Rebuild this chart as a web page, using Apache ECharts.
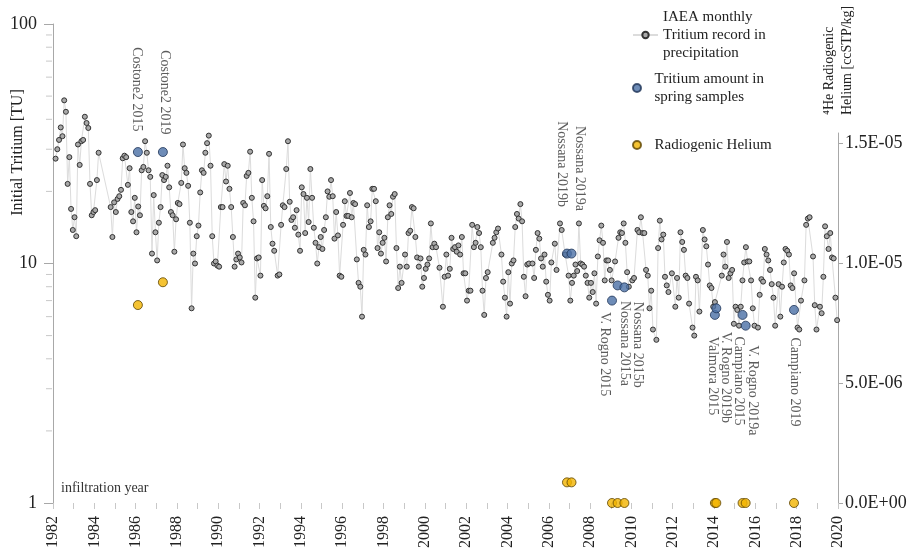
<!DOCTYPE html>
<html><head><meta charset="utf-8">
<script src="https://cdn.jsdelivr.net/npm/echarts@6/dist/echarts.min.js"></script>
<style>html,body{margin:0;padding:0;background:#fff}#c{width:921px;height:553px}</style>
</head><body><div id="c"></div>
<script>
// ---- IAEA monthly tritium in precipitation (TU), one array per year, Jan..Dec ----
const iaeaStartYear = 1982;
const iaea1982 = [null, 27.4, 30, 32.8, 37, 34, 48, 43, 21.5, 27.8, 16.9, 13.8];
const iaea1983 = [15.6, 13, 31.4, 25.8, 32.4, 32.8, 41, 38.6, 36.8, 21.5, 15.9, 16.4];
const iaea1984 = [16.7, 22.3, 29, null, null, null, null, null, null, 17.2, 12.9, 18];
const iaea1985 = [16.4, 18.6, 19.1, 20.3, 27.5, 28.2, 27.8, 21.3, 25, 16.4, 15, 18.8];
const iaea1986 = [13.5, 17.3, 15.9, 24.5, 25.3, 32.4, 29, 24.5, 23, 11, 19.3, 13.5];
const iaea1987 = [10.3, 14.8, 17.2, 23.4, 22.3, 23, 25.6, 20.8, 16.4, 15.9, 11.2, 15.3];
const iaea1988 = [17.9, 17.7, 21.7, 31.4, 25, 23.9, 21.1, 14.8, 6.5, 11, 10, 13];
const iaea1989 = [14.4, 19.8, 24.5, 23.9, 29, 31.8, 34.2, 25.6, 13, 10, 10.2, 9.8];
const iaea1990 = [9.7, 17.2, 17.2, 26, 22, 25.6, 20.5, 17.2, 12.9, 9.7, 10.4, 11];
const iaea1991 = [10.6, 10.1, 17.9, 17.5, 23.2, 23.9, 29.3, 18.8, 15, 7.2, 10.5, 10.6];
const iaea1992 = [8.9, 22.3, 17.4, 17, 19.1, 28.7, 14.2, 12.1, 11.3, null, 8.9, 9];
const iaea1993 = [14.5, 17.5, 17.2, 24.8, 32.4, 18.1, 15.2, 15.6, 14.1, 16.7, 13.2, 11.3];
const iaea1994 = [20.8, 19.5, 13.4, 18.8, 14.9, 24.8, 18.8, 14.1, 12.2, 10, 11.7, 12.9];
const iaea1995 = [11.5, 13.8, 15.6, 20, 19, 22.3, 19.1, 12.7, 16.4, 13.1, 8.9, 8.8];
const iaea1996 = [14.5, 18.2, 15.8, 15.8, 19.7, 15.6, 17.9, 17.7, 10.4, 8.3, 8, 6];
const iaea1997 = [11.4, 10.9, 17.5, 14.2, 15, 20.5, 20.5, 18.2, 11.6, 13.5, 11, 12.2];
const iaea1998 = [12.8, 10.2, 15.6, 17.5, 16.1, 19, 19.5, 11.6, 7.9, 9.7, 8.3, null];
const iaea1999 = [10.9, 9.7, 13.4, 13.7, 17.2, 17, 12.9, 10.6, 9.7, 10.5, 8, 8.7];
const iaea2000 = [9.5, 9.9, 10.5, 14.7, 11.7, 12.1, 11.7, null, 9.6, null, 6.6, 8.8];
const iaea2001 = [10.9, 8.9, 9.5, 12.8, 11.5, 11.7, 11.2, 11.9, 10.9, 12.9, 9.1, 9.1];
const iaea2002 = [7, 7.7, 7.7, 14.5, 11.7, 12.2, 14.2, 13.4, 11.7, 7.7, 6.1, 8.7];
const iaea2003 = [9.2, null, null, 12.2, 12.8, 13.5, 14, null, 10.9, 8.4, 7.2, 6];
const iaea2004 = [9.2, 6.8, 10, 10.3, 14.2, 16.1, 15.4, 17.7, 15, 8.8, 7.3, 9.9];
const iaea2005 = [10, null, 10, 8.7, 11.4, 13.4, 12.7, 10.5, 9.7, 10.9, 8.4, 7.4];
const iaea2006 = [7, 10.1, null, 12.1, 9.4, null, 14.7, 13.8, null, 10.9, null, 8.9];
const iaea2007 = [7, 8.3, 8.9, 9.9, 9.3, 14.7, 10, 9.9, 9.7, 8.9, 8.3, 7.2];
const iaea2008 = [8.3, 7.6, 9.1, 6.8, 10.7, 12.5, 14.4, 12.2, 8.5, 10.3, 10.3, 9.4];
const iaea2009 = [8.5, null, 10.2, null, 12.8, 13.5, 13.4, 14.7, 12.2, 9.2, 8, null];
const iaea2010 = [8.5, 8.7, null, 13.8, 13.5, 15.6, 13.4, 13.4, 9.4, 8.9, 6.5, 7.7];
const iaea2011 = [5.3, null, 4.8, 11.6, 15.1, 12.6, 13.2, 8.8, 8.1, 7.6, null, 9.1];
const iaea2012 = [null, 6.6, 8.7, 7.2, 13.5, 12.3, 11.4, 8.9, 8.7, 6.8, null, 5.4];
const iaea2013 = [5.0, 8.8, 8.5, 6.3, null, 13.8, 12.6, 11.8, 9.9, 8.1, 7.9, 6.6];
const iaea2014 = [6.9, null, null, null, 8.9, 10.9, 9.7, 12.3, 8.7, 9.1, 9.4, 5.6];
const iaea2015 = [6.6, 6.4, 5.5, 6.6, 8.5, 10.1, 11.7, 10.2, 10.2, 8.5, 6.5, 5.5];
const iaea2016 = [null, 5.4, 7.4, 8.6, 8.4, 11.5, 10.9, 10.3, 9.4, 8.2, 7.2, 5.5];
const iaea2017 = [null, 8.2, 6, 8, 10.1, 11.5, 11.3, 10.9, 8.1, 7.9, 9.1, null];
const iaea2018 = [5.4, 5.3, 7, null, 8.5, 14.5, 15.4, 15.6, null, 10.7, 6.7, 5.3];
const iaea2019 = [null, 6.6, 6.2, 8.8, 14.3, 13, 11.5, 13.4, 10.6, 10.5, 7.2, 5.8];
const iaeaByYear = [iaea1982, iaea1983, iaea1984, iaea1985, iaea1986, iaea1987, iaea1988, iaea1989,
  iaea1990, iaea1991, iaea1992, iaea1993, iaea1994, iaea1995, iaea1996, iaea1997, iaea1998, iaea1999,
  iaea2000, iaea2001, iaea2002, iaea2003, iaea2004, iaea2005, iaea2006, iaea2007, iaea2008, iaea2009,
  iaea2010, iaea2011, iaea2012, iaea2013, iaea2014, iaea2015, iaea2016, iaea2017, iaea2018, iaea2019];

// ---- spring samples ----
const springNames = ['Costone2 2015', 'Costone2 2019', 'Nossana 2019b', 'Nossana 2019a', 'V. Rogno 2015',
  'Nossana 2015a', 'Nossana 2015b', 'Valmora 2015', 'V. Rogno 2019b', 'Campiano 2015', 'V. Rogno 2019a', 'Campiano 2019'];
const springYears = [1986.11, 1987.32, 2006.88, 2007.10, 2009.06, 2009.33, 2009.66, 2014.04, 2014.11, 2015.38, 2015.53, 2017.87];
const springTritium = [29.2, 29.2, 11, 11, 7.0, 8.1, 7.95, 6.1, 6.5, 6.1, 5.5, 6.4];
const heliumValues = [8.25e-6, 9.2e-6, 8.6e-7, 8.6e-7, 0, 0, 0, 0, 0, 0, 0, 0];

// ---- axis ticks ----
const xMin = 1982, xMax = 2020, xStep = 2;
const logMinorTicks = [2, 3, 4, 5, 6, 7, 8, 9, 20, 30, 40, 50, 60, 70, 80, 90];
const heliumTickStep = 5e-6;

// label placement (style only): [dx, dy, align] relative to the point
const labelPlacement = [
  [-1, -20, 'right'], [2, -17, 'right'], [-5, -46, 'right'], [8.5, -42, 'right'],
  [-7, 12, 'left'], [8, 16, 'left'], [14, 15, 'left'], [-2, 22, 'left'],
  [10, 24, 'left'], [-3, 22, 'left'], [8, 20, 'left'], [1, 28, 'left']
];

const FONT = 'Liberation Serif';
const TXT = '#222';
const iaeaName = 'IAEA monthly\nTritium record in\nprecipitation';
const springName = 'Tritium amount in\nspring samples';
const heliumName = 'Radiogenic Helium';

const iaeaData = [];
iaeaByYear.forEach((arr, i) => arr.forEach((v, m) => {
  if (v != null) iaeaData.push([iaeaStartYear + i + (m + 0.5) / 12, v]);
}));

const R = 4.5;
const springData = springNames.map((n, i) => ({
  name: n,
  value: [springYears[i], springTritium[i]],
  label: {
    show: true, formatter: n, rotate: -90,
    position: [R + labelPlacement[i][0], R + labelPlacement[i][1]],
    align: labelPlacement[i][2], verticalAlign: 'middle',
    fontFamily: FONT, fontSize: 14, color: '#333'
  }
}));
const heliumData = springYears.map((y, i) => [y, heliumValues[i]]);

function expFmt(v) {
  if (v === 0) return '0.0E+00';
  const s = v.toExponential(1).toUpperCase();
  const [mant, ex] = s.split('E');
  const sign = ex[0] === '-' ? '-' : '+';
  const d = ex.replace(/[+-]/, '');
  return mant + 'E' + sign + (d.length < 2 ? '0' + d : d);
}

const chart = echarts.init(document.getElementById('c'));
chart.setOption({
  animation: false,
  backgroundColor: '#fff',
  textStyle: { fontFamily: FONT },
  grid: [
    { left: 53, right: 83, top: 24, bottom: 50, containLabel: false, outerBoundsMode: 'none' },
    { left: 53, right: 83, top: 133, bottom: 50, containLabel: false, outerBoundsMode: 'none' }
  ],
  legend: [
    { data: [iaeaName], left: 632, top: -10, padding: 0, orient: 'vertical', itemWidth: 25, itemHeight: 8,
      textStyle: { fontFamily: FONT, fontSize: 15, color: TXT, lineHeight: 18, padding: [36, 0, 0, 0] } },
    { data: [springName], left: 632, top: 61, padding: 0, orient: 'vertical', itemWidth: 25, itemHeight: 8,
      textStyle: { fontFamily: FONT, fontSize: 15, color: TXT, lineHeight: 18, padding: [18, 0, 0, 0] } },
    { data: [heliumName], left: 632, top: 136, padding: 0, orient: 'vertical', itemWidth: 25, itemHeight: 8,
      textStyle: { fontFamily: FONT, fontSize: 15, color: TXT, lineHeight: 18 } }
  ],
  xAxis: [
    { type: 'value', gridIndex: 0, min: xMin, max: xMax, interval: xStep,
      name: 'infiltration year', nameLocation: 'start', nameGap: -8, nameMoveOverlap: false,
      nameTextStyle: { fontFamily: FONT, fontSize: 14, color: '#333', align: 'left', verticalAlign: 'bottom', padding: [0, 0, 8, 0] },
      axisLine: { show: false },
      axisTick: { show: true, length: 6, lineStyle: { color: '#c8c8c8' } },
      minorTick: { show: true, splitNumber: 2, length: 6, lineStyle: { color: '#c8c8c8' } },
      splitLine: { show: false },
      axisLabel: { rotate: 90, margin: 13, fontFamily: FONT, fontSize: 16, color: TXT, formatter: v => String(v) } },
    { type: 'value', gridIndex: 1, min: xMin, max: xMax, show: false }
  ],
  yAxis: [
    { type: 'log', logBase: 10, gridIndex: 0, min: 1, max: 100, position: 'left',
      name: 'Initial Tritium [TU]', nameLocation: 'middle', nameRotate: 90, nameGap: 27, nameMoveOverlap: false,
      nameTextStyle: { fontFamily: FONT, fontSize: 16, color: TXT, padding: [0, 0, 0, 222] },
      axisLine: { show: true, lineStyle: { color: '#a8a8a8' } },
      axisTick: { show: true, length: 9, lineStyle: { color: '#a8a8a8' } },
      splitLine: { show: false },
      axisLabel: { margin: 16, fontFamily: FONT, fontSize: 18, color: TXT } },
    { type: 'value', gridIndex: 1, position: 'right', min: 0, max: 1.542e-5, interval: heliumTickStep,
      name: '\u2074He Radiogenic\nHelium [ccSTP/kg]', nameLocation: 'end', nameRotate: 90, nameGap: 18, nameMoveOverlap: false,
      nameTextStyle: { fontFamily: FONT, fontSize: 14, lineHeight: 18, color: TXT, align: 'left', verticalAlign: 'middle' },
      axisLine: { show: true, lineStyle: { color: '#a8a8a8' } },
      axisTick: { show: true, length: 5, lineStyle: { color: '#a8a8a8' } },
      splitLine: { show: false },
      axisLabel: { showMaxLabel: false, margin: 7, fontFamily: FONT, fontSize: 18, color: TXT, formatter: expFmt } }
  ],
  series: [
    { name: iaeaName, type: 'line', xAxisIndex: 0, yAxisIndex: 0, data: iaeaData,
      symbol: 'circle', symbolSize: 5, showAllSymbol: true,
      lineStyle: { color: '#dcdcdc', width: 1 },
      itemStyle: { color: '#a9a9a9', borderColor: '#333', borderWidth: 1 },
      z: 2 },
    { name: springName, type: 'scatter', xAxisIndex: 0, yAxisIndex: 0, data: springData,
      symbol: 'circle', symbolSize: 9,
      itemStyle: { color: '#4a6fa5', borderColor: '#1f3558', borderWidth: 1 },
      z: 5 },
    { name: heliumName, type: 'scatter', xAxisIndex: 1, yAxisIndex: 1, data: heliumData,
      symbol: 'circle', symbolSize: 9, clip: false,
      itemStyle: { color: '#f2b400', borderColor: '#5c4300', borderWidth: 1 },
      z: 4 },
    { name: 'minorTicks', type: 'custom', xAxisIndex: 0, yAxisIndex: 0, silent: true,
      data: logMinorTicks.map(v => [xMin, v]), encode: { x: 0, y: 1 },
      renderItem: (params, api) => {
        const p = api.coord([api.value(0), api.value(1)]);
        return { type: 'line', shape: { x1: p[0] - 7, y1: p[1], x2: p[0] - 1, y2: p[1] },
          style: { stroke: '#c8c8c8', lineWidth: 1 } };
      }, z: 1 }
  ]
});
</script>
</body></html>
